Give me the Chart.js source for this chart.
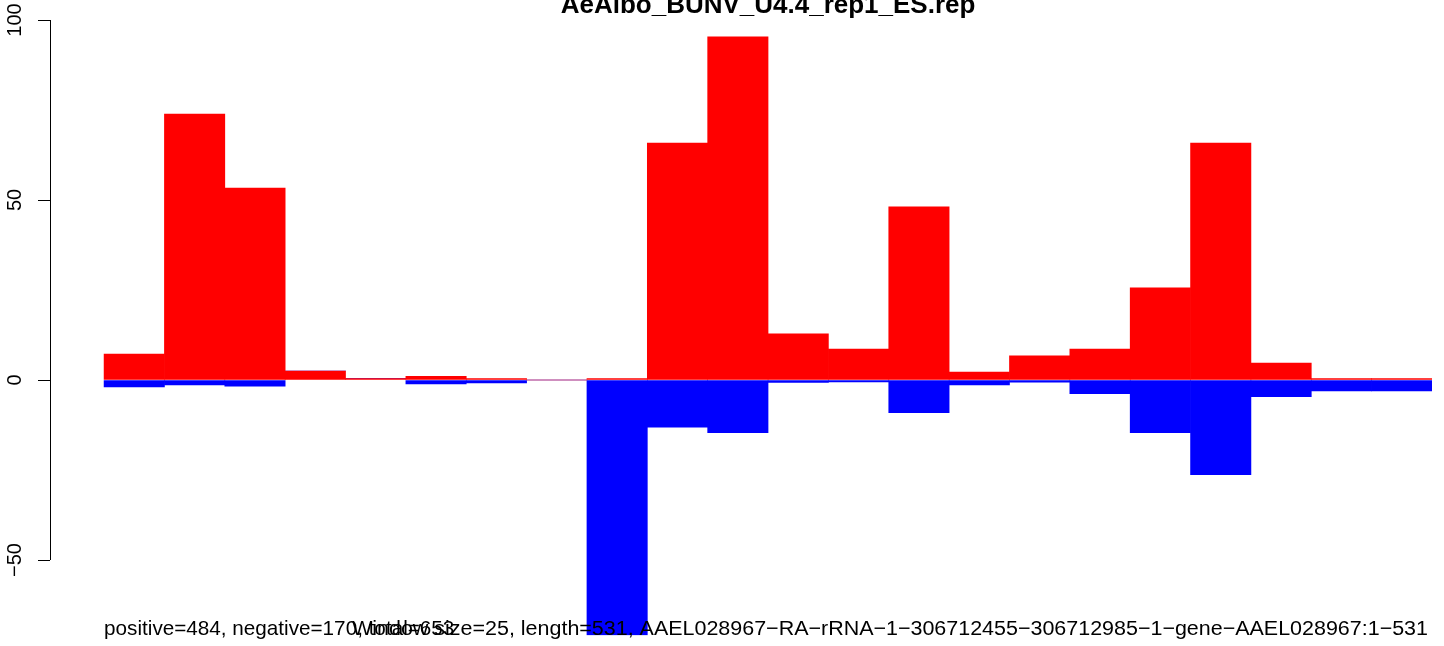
<!DOCTYPE html>
<html lang="en">
<head>
  <meta charset="UTF-8">
  <title>AeAlbo_BUNV_U4.4_rep1_ES.rep</title>
  <script src="https://cdn.jsdelivr.net/npm/chart.js"></script>
  <style>
    html, body {
      margin: 0;
      padding: 0;
      background: #ffffff;
    }
    #wrap {
      position: relative;
      width: 1444px;
      height: 646px;
    }
  </style>
</head>
<body>
  <div id="wrap">
    <canvas id="chart" width="1444" height="646"></canvas>
  </div>

  <script>
    // window index along the transcript
    const bins = [1, 2, 3, 4, 5, 6, 7, 8, 9, 10, 11, 12, 13, 14, 15, 16, 17, 18, 19, 20, 21, 22];
    // red = positive strand, blue = negative strand
    const positive = [7.2, 73.9, 53.3, 2.5, 0.4, 1.0, 0.4, 0, 0.4, 65.8, 95.3, 12.8, 8.6, 48.1, 2.2, 6.7, 8.6, 25.6, 65.8, 4.7, 0.4, 0.4];
    const negative = [-1.9, -1.4, -1.7, 0, 0, -1.1, -0.8, 0, -70.8, -13.1, -14.6, -0.7, -0.5, -9.1, -1.4, -0.6, -3.8, -14.6, -26.3, -4.6, -3.0, -3.0];
    const yTicks = [-50, 0, 50, 100];
    const yTickLabels = ['\u221250', '0', '50', '100'];

    const title = 'AeAlbo_BUNV_U4.4_rep1_ES.rep';
    const leftNote = 'positive=484, negative=170, total=653';
    const rightNote = 'Window size=25, length=531, AAEL028967\u2212RA\u2212rRNA\u22121\u2212306712455\u2212306712985\u22121\u2212gene\u2212AAEL028967:1\u2212531';

    const FONT = '"Liberation Sans", Arial, Helvetica, sans-serif';

    // axis line, rotated tick labels, title and footer texts (R base graphics look)
    const rDecor = {
      id: 'rDecor',
      afterDatasetsDraw(chart) {
        const ctx = chart.ctx;
        const x = chart.scales.x;
        const y = chart.scales.y;
        const left = chart.chartArea.left;

        ctx.save();
        ctx.strokeStyle = '#000';
        ctx.lineWidth = 1;
        ctx.beginPath();
        ctx.moveTo(left + 0.5, y.getPixelForValue(yTicks[yTicks.length - 1]));
        ctx.lineTo(left + 0.5, y.getPixelForValue(yTicks[0]));
        ctx.stroke();

        ctx.fillStyle = '#000';
        ctx.font = '20px ' + FONT;
        ctx.textAlign = 'center';
        ctx.textBaseline = 'alphabetic';
        yTicks.forEach((v, i) => {
          ctx.save();
          ctx.translate(21, y.getPixelForValue(v));
          ctx.rotate(-Math.PI / 2);
          ctx.fillText(yTickLabels[i], 0, 0);
          ctx.restore();
        });

        const barsLeft = x.getPixelForValue(bins[0] - 0.5);
        const barsRight = x.getPixelForValue(bins[bins.length - 1] + 0.5);

        ctx.font = 'bold 26px ' + FONT;
        ctx.textAlign = 'center';
        ctx.fillText(title, (barsLeft + barsRight) / 2, 13);

        ctx.font = '20.7px ' + FONT;
        ctx.textAlign = 'left';
        ctx.fillText(leftNote, barsLeft, 635);

        // second note runs from ~352px to just short of the last bar edge
        const noteStart = 352;
        const noteEnd = barsRight - 4;
        const w = ctx.measureText(rightNote).width;
        ctx.save();
        ctx.translate(noteStart, 635);
        ctx.scale((noteEnd - noteStart) / w, 1);
        ctx.fillText(rightNote, 0, 0);
        ctx.restore();
        ctx.restore();
      }
    };

    new Chart(document.getElementById('chart'), {
      type: 'bar',
      data: {
        datasets: [
          {
            label: 'positive',
            data: bins.map((b, i) => ({ x: b, y: positive[i] })),
            backgroundColor: '#ff0000',
            borderWidth: 0
          },
          {
            label: 'negative',
            data: bins.map((b, i) => ({ x: b, y: negative[i] })),
            backgroundColor: '#0000ff',
            borderWidth: 0
          }
        ]
      },
      options: {
        responsive: false,
        animation: false,
        events: [],
        barPercentage: 1,
        categoryPercentage: 1,
        layout: { padding: { top: 20, bottom: 10.4, left: 0, right: 12 } },
        plugins: {
          legend: { display: false },
          tooltip: { enabled: false }
        },
        scales: {
          x: {
            type: 'linear',
            stacked: true,
            display: false,
            offset: false,
            min: -0.396,
            max: 22.5
          },
          y: {
            stacked: true,
            min: -71,
            max: 100,
            afterBuildTicks: (scale) => {
              scale.ticks = yTicks.map(v => ({ value: v }));
            },
            afterFit: (scale) => {
              scale.width = 50;
            },
            border: { display: false },
            grid: {
              drawOnChartArea: false,
              drawTicks: true,
              tickLength: 12,
              color: '#000',
              lineWidth: 1
            },
            ticks: { display: false }
          }
        }
      },
      plugins: [rDecor]
    });
  </script>
</body>
</html>
